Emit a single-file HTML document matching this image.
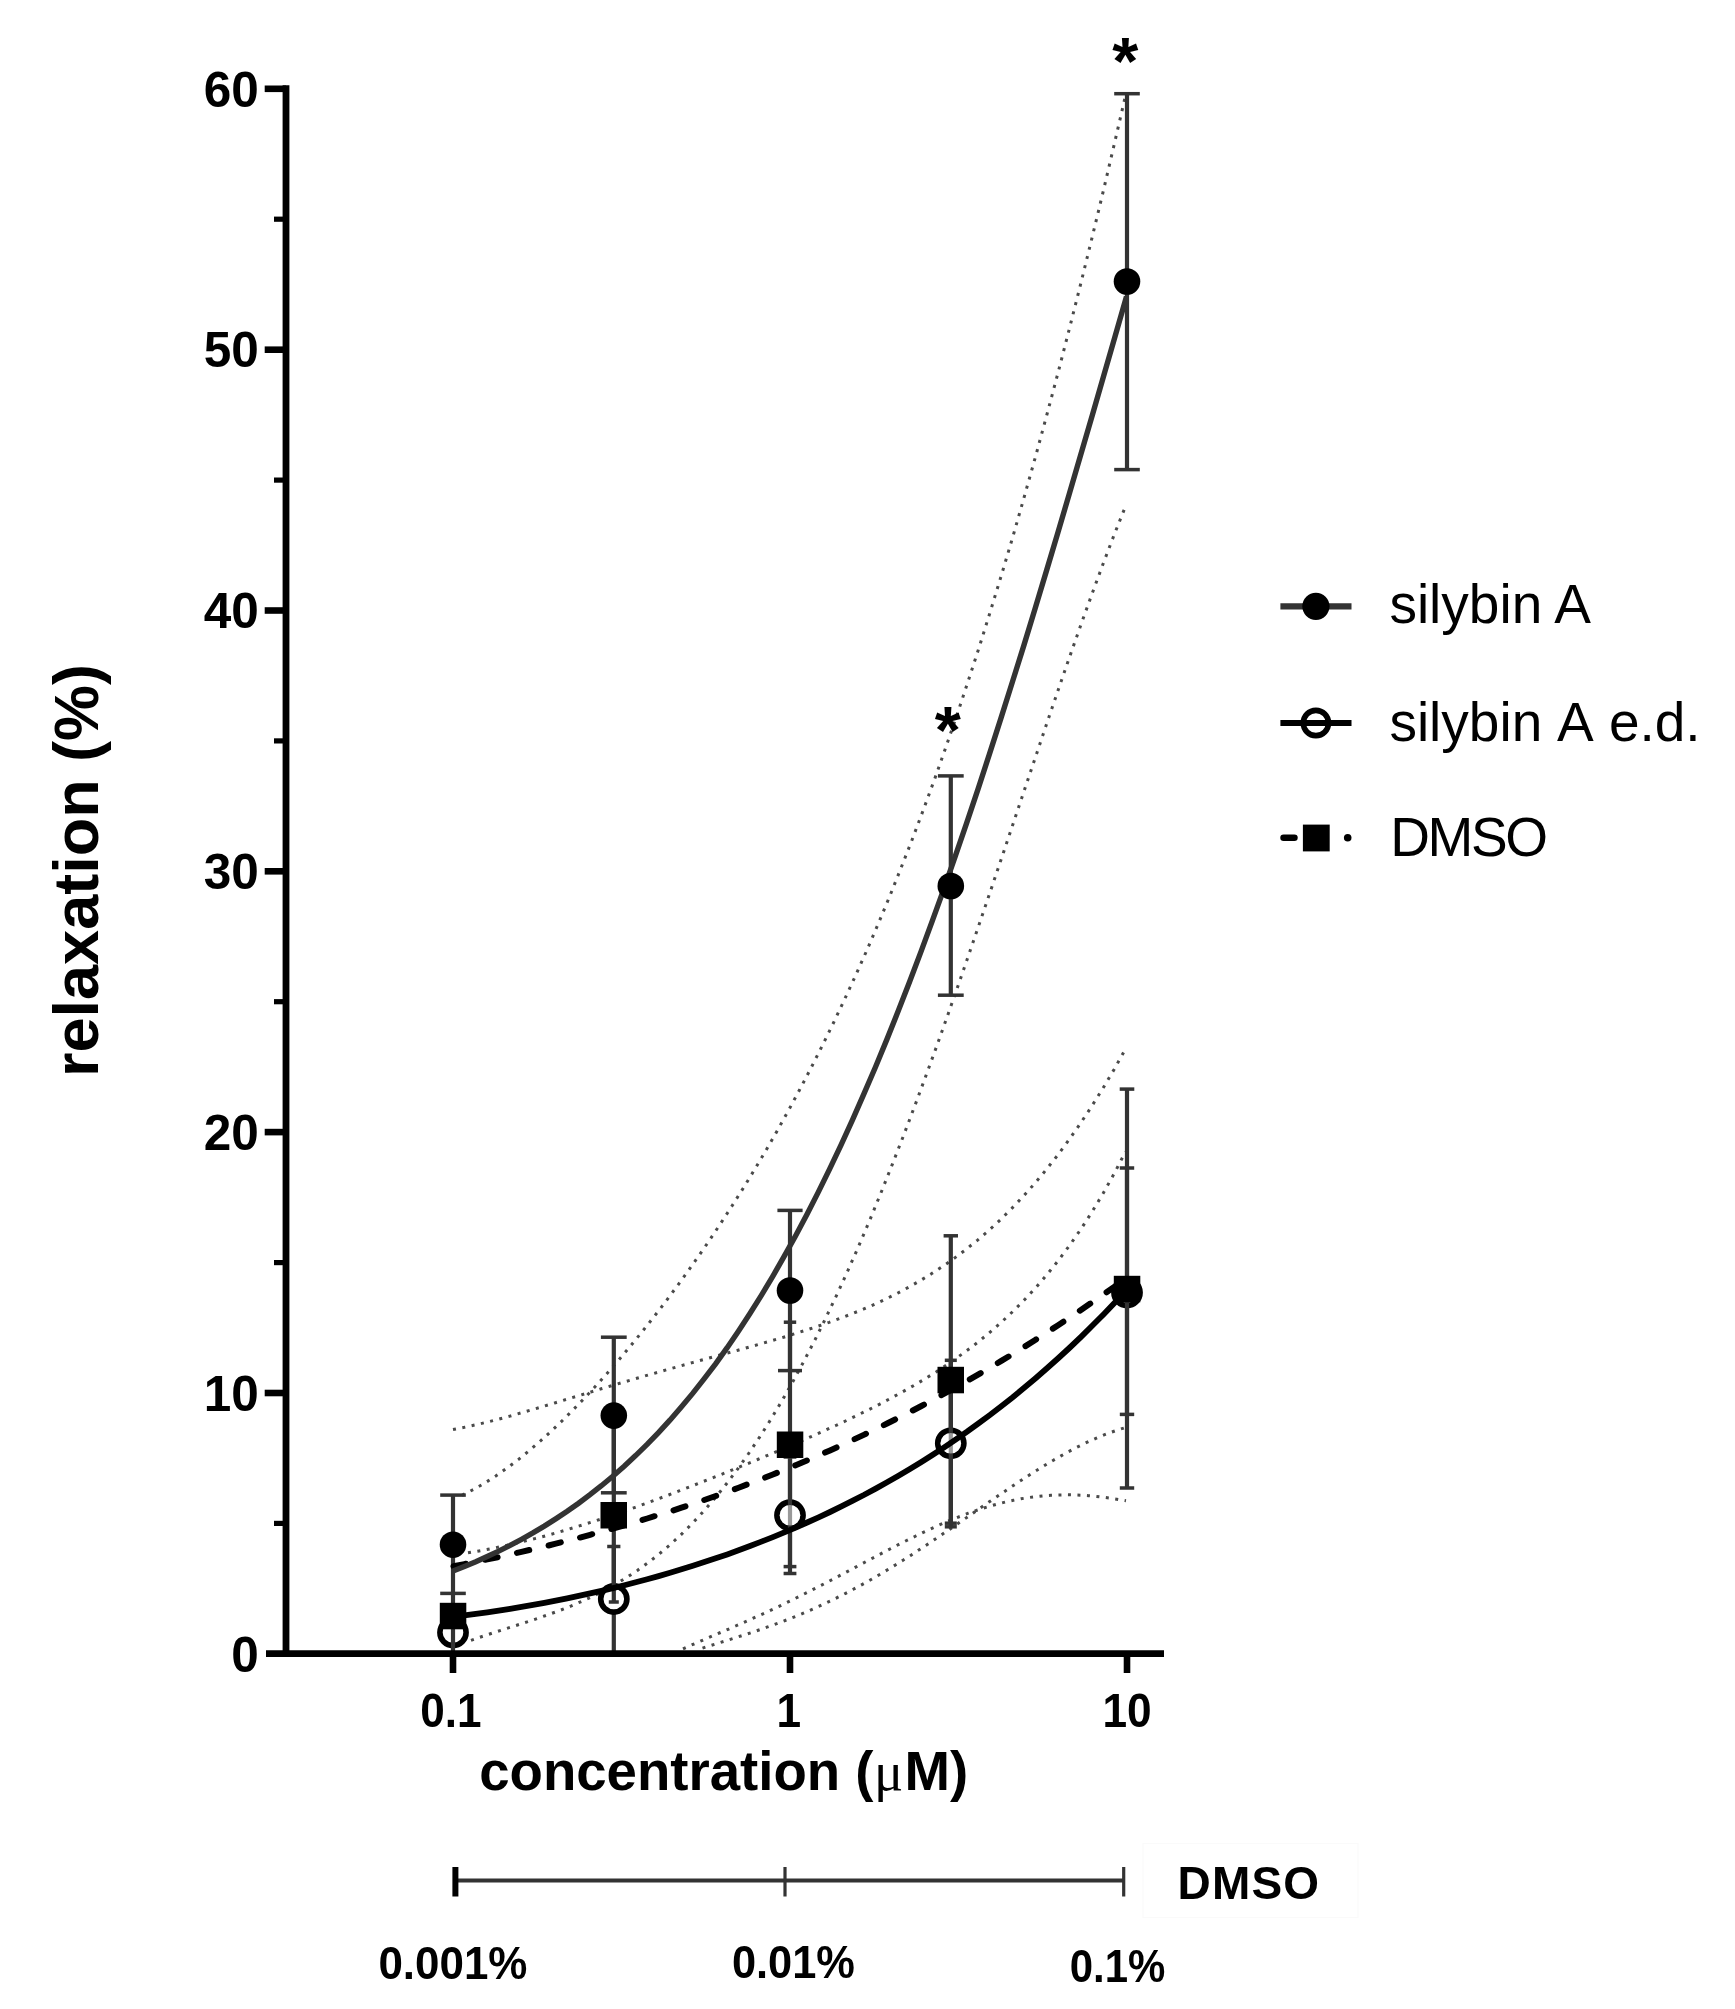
<!DOCTYPE html>
<html lang="en">
<head>
<meta charset="utf-8">
<title>Relaxation vs concentration</title>
<style>
html,body{margin:0;padding:0;background:#fff;}
body{width:1735px;height:2009px;overflow:hidden;}
svg{display:block;font-kerning:none;filter:blur(0.75px);}
text{font-kerning:none;}
</style>
</head>
<body>
<svg width="1735" height="2009" viewBox="0 0 1735 2009">
<path d="M462.0 1495.3 L473.3 1489.6 L484.5 1483.2 L495.8 1476.0 L507.0 1468.1 L518.3 1459.6 L529.5 1450.4 L540.8 1440.7 L552.0 1430.4 L563.3 1419.7 L574.5 1408.4 L585.8 1396.7 L597.1 1384.6 L608.3 1372.0 L619.6 1359.0 L630.8 1345.6 L642.1 1331.8 L653.3 1317.6 L664.6 1303.0 L675.8 1287.9 L687.1 1272.4 L698.3 1256.5 L709.6 1240.1 L720.8 1223.2 L732.1 1205.8 L743.4 1187.9 L754.6 1169.5 L765.9 1150.5 L777.1 1130.9 L788.4 1110.6 L799.6 1089.8 L810.9 1068.2 L822.1 1046.0 L833.4 1023.0 L844.6 999.3 L855.9 974.8 L867.2 949.5 L878.4 923.3 L889.7 896.3 L900.9 868.3 L912.2 839.5 L923.4 809.7 L934.7 778.9 L945.9 747.1 L957.2 714.3 L968.4 680.4 L979.7 645.6 L990.9 609.6 L1002.2 572.6 L1013.5 534.5 L1024.7 495.2 L1036.0 454.9 L1047.2 413.5 L1058.5 371.0 L1069.7 327.4 L1081.0 282.7 L1092.2 237.0 L1103.5 190.2 L1114.7 142.3 L1126.0 93.5" fill="none" stroke="#4a4a4a" stroke-width="3" stroke-dasharray="3 6.5"/>
<path d="M471.0 1640.4 L482.1 1636.5 L493.2 1632.8 L504.3 1629.2 L515.4 1625.7 L526.5 1622.1 L537.6 1618.4 L548.7 1614.5 L559.7 1610.5 L570.8 1606.1 L581.9 1601.3 L593.0 1596.2 L604.1 1590.6 L615.2 1584.4 L626.3 1577.7 L637.4 1570.4 L648.5 1562.4 L659.6 1553.6 L670.7 1544.2 L681.8 1533.9 L692.9 1522.8 L704.0 1510.8 L715.1 1498.0 L726.1 1484.3 L737.2 1469.6 L748.3 1454.0 L759.4 1437.4 L770.5 1419.9 L781.6 1401.4 L792.7 1381.9 L803.8 1361.4 L814.9 1340.0 L826.0 1317.5 L837.1 1294.2 L848.2 1269.9 L859.3 1244.7 L870.4 1218.6 L881.4 1191.7 L892.5 1163.9 L903.6 1135.4 L914.7 1106.1 L925.8 1076.1 L936.9 1045.6 L948.0 1014.4 L959.1 982.7 L970.2 950.6 L981.3 918.1 L992.4 885.4 L1003.5 852.4 L1014.6 819.3 L1025.7 786.2 L1036.8 753.2 L1047.8 720.4 L1058.9 687.9 L1070.0 655.8 L1081.1 624.2 L1092.2 593.4 L1103.3 563.3 L1114.4 534.2 L1125.5 506.3" fill="none" stroke="#4a4a4a" stroke-width="3" stroke-dasharray="3 6.5"/>
<path d="M453.0 1429.5 L464.4 1427.3 L475.8 1424.8 L487.2 1422.1 L498.6 1419.2 L510.0 1416.1 L521.4 1412.8 L532.8 1409.5 L544.2 1406.1 L555.6 1402.7 L567.0 1399.2 L578.4 1395.8 L589.8 1392.3 L601.2 1388.8 L612.6 1385.4 L624.0 1382.0 L635.4 1378.7 L646.8 1375.4 L658.2 1372.2 L669.6 1368.9 L681.0 1365.8 L692.4 1362.6 L703.8 1359.5 L715.2 1356.4 L726.6 1353.3 L738.0 1350.2 L749.4 1347.0 L760.8 1343.8 L772.2 1340.5 L783.6 1337.2 L794.9 1333.7 L806.3 1330.1 L817.7 1326.3 L829.1 1322.4 L840.5 1318.2 L851.9 1313.8 L863.3 1309.2 L874.7 1304.2 L886.1 1298.9 L897.5 1293.2 L908.9 1287.1 L920.3 1280.6 L931.7 1273.6 L943.1 1266.1 L954.5 1258.1 L965.9 1249.5 L977.3 1240.3 L988.7 1230.5 L1000.1 1220.0 L1011.5 1208.7 L1022.9 1196.7 L1034.3 1183.9 L1045.7 1170.3 L1057.1 1155.9 L1068.5 1140.5 L1079.9 1124.2 L1091.3 1106.9 L1102.7 1088.7 L1114.1 1069.4 L1125.5 1049.0" fill="none" stroke="#4a4a4a" stroke-width="3" stroke-dasharray="3 6.5"/>
<path d="M683.0 1648.9 L690.5 1645.5 L698.0 1642.2 L705.5 1639.0 L713.0 1635.7 L720.5 1632.5 L728.1 1629.3 L735.6 1626.0 L743.1 1622.7 L750.6 1619.4 L758.1 1616.0 L765.6 1612.6 L773.1 1609.1 L780.6 1605.6 L788.1 1601.9 L795.6 1598.3 L803.1 1594.5 L810.6 1590.7 L818.2 1586.9 L825.7 1583.0 L833.2 1579.1 L840.7 1575.1 L848.2 1571.1 L855.7 1567.1 L863.2 1563.1 L870.7 1559.1 L878.2 1555.2 L885.7 1551.2 L893.2 1547.3 L900.7 1543.4 L908.3 1539.7 L915.8 1536.0 L923.3 1532.3 L930.8 1528.8 L938.3 1525.4 L945.8 1522.2 L953.3 1519.0 L960.8 1516.1 L968.3 1513.2 L975.8 1510.6 L983.3 1508.1 L990.8 1505.9 L998.4 1503.8 L1005.9 1501.9 L1013.4 1500.3 L1020.9 1498.8 L1028.4 1497.6 L1035.9 1496.6 L1043.4 1495.8 L1050.9 1495.3 L1058.4 1495.0 L1065.9 1494.8 L1073.4 1494.9 L1080.9 1495.2 L1088.5 1495.7 L1096.0 1496.4 L1103.5 1497.3 L1111.0 1498.3 L1118.5 1499.5 L1126.0 1500.7" fill="none" stroke="#4a4a4a" stroke-width="3" stroke-dasharray="3 6.5"/>
<path d="M468.0 1552.8 L479.1 1550.9 L490.3 1548.8 L501.4 1546.5 L512.6 1544.1 L523.7 1541.4 L534.9 1538.6 L546.0 1535.7 L557.2 1532.6 L568.3 1529.3 L579.4 1525.9 L590.6 1522.4 L601.7 1518.8 L612.9 1515.1 L624.0 1511.2 L635.2 1507.3 L646.3 1503.2 L657.4 1499.1 L668.6 1495.0 L679.7 1490.7 L690.9 1486.4 L702.0 1482.0 L713.2 1477.6 L724.3 1473.2 L735.5 1468.6 L746.6 1464.1 L757.7 1459.5 L768.9 1454.8 L780.0 1450.1 L791.2 1445.3 L802.3 1440.5 L813.5 1435.6 L824.6 1430.6 L835.8 1425.5 L846.9 1420.3 L858.0 1414.9 L869.2 1409.5 L880.3 1403.8 L891.5 1397.9 L902.6 1391.8 L913.8 1385.5 L924.9 1378.9 L936.1 1371.9 L947.2 1364.6 L958.3 1356.8 L969.5 1348.7 L980.6 1340.0 L991.8 1330.7 L1002.9 1320.8 L1014.1 1310.3 L1025.2 1299.0 L1036.3 1287.0 L1047.5 1274.0 L1058.6 1260.1 L1069.8 1245.1 L1080.9 1229.1 L1092.1 1211.8 L1103.2 1193.2 L1114.4 1173.2 L1125.5 1151.7" fill="none" stroke="#4a4a4a" stroke-width="3" stroke-dasharray="3 6.5"/>
<path d="M702.5 1648.1 L709.7 1645.8 L716.8 1643.6 L724.0 1641.4 L731.1 1639.1 L738.3 1636.8 L745.5 1634.5 L752.6 1632.2 L759.8 1629.7 L766.9 1627.2 L774.1 1624.6 L781.3 1622.0 L788.4 1619.2 L795.6 1616.4 L802.8 1613.4 L809.9 1610.3 L817.1 1607.2 L824.2 1603.9 L831.4 1600.5 L838.6 1596.9 L845.7 1593.3 L852.9 1589.5 L860.0 1585.7 L867.2 1581.7 L874.4 1577.6 L881.5 1573.4 L888.7 1569.1 L895.8 1564.7 L903.0 1560.2 L910.2 1555.7 L917.3 1551.0 L924.5 1546.3 L931.7 1541.5 L938.8 1536.7 L946.0 1531.8 L953.1 1526.9 L960.3 1521.9 L967.5 1517.0 L974.6 1512.0 L981.8 1507.0 L988.9 1502.1 L996.1 1497.2 L1003.3 1492.3 L1010.4 1487.5 L1017.6 1482.7 L1024.7 1478.0 L1031.9 1473.4 L1039.1 1468.9 L1046.2 1464.5 L1053.4 1460.2 L1060.6 1456.1 L1067.7 1452.1 L1074.9 1448.3 L1082.0 1444.7 L1089.2 1441.3 L1096.4 1438.1 L1103.5 1435.1 L1110.7 1432.4 L1117.8 1429.9 L1125.0 1427.7" fill="none" stroke="#4a4a4a" stroke-width="3" stroke-dasharray="3 6.5"/>
<g id="err-silybin-a">
<line x1="453.0" y1="1495.1" x2="453.0" y2="1593.8" stroke="#333" stroke-width="4.2"/>
<line x1="440.2" y1="1495.1" x2="465.8" y2="1495.1" stroke="#333" stroke-width="3.5"/>
<line x1="440.2" y1="1593.4" x2="465.8" y2="1593.4" stroke="#333" stroke-width="3.5"/>
<line x1="613.8" y1="1337.2" x2="613.8" y2="1492.8" stroke="#333" stroke-width="4.2"/>
<line x1="600.9" y1="1337.2" x2="626.7" y2="1337.2" stroke="#333" stroke-width="3.5"/>
<line x1="600.9" y1="1492.8" x2="626.7" y2="1492.8" stroke="#333" stroke-width="3.5"/>
<line x1="790.0" y1="1210.4" x2="790.0" y2="1370.6" stroke="#333" stroke-width="4.2"/>
<line x1="777.4" y1="1210.4" x2="802.6" y2="1210.4" stroke="#333" stroke-width="3.5"/>
<line x1="778.0" y1="1370.6" x2="802.0" y2="1370.6" stroke="#333" stroke-width="3.5"/>
<line x1="950.8" y1="775.9" x2="950.8" y2="995.2" stroke="#333" stroke-width="4.2"/>
<line x1="937.9" y1="775.9" x2="963.7" y2="775.9" stroke="#333" stroke-width="3.5"/>
<line x1="937.9" y1="995.2" x2="963.7" y2="995.2" stroke="#333" stroke-width="3.5"/>
<line x1="1127.0" y1="93.7" x2="1127.0" y2="469.6" stroke="#333" stroke-width="4.2"/>
<line x1="1114.2" y1="93.7" x2="1139.8" y2="93.7" stroke="#333" stroke-width="3.5"/>
<line x1="1114.2" y1="469.6" x2="1139.8" y2="469.6" stroke="#333" stroke-width="3.5"/>
</g>
<g id="err-silybin-a-ed">
<line x1="613.8" y1="1546.5" x2="613.8" y2="1652.0" stroke="#333" stroke-width="4.2"/>
<line x1="607.2" y1="1546.5" x2="620.4" y2="1546.5" stroke="#333" stroke-width="3.5"/>
<line x1="790.0" y1="1457.0" x2="790.0" y2="1573.5" stroke="#333" stroke-width="4.2"/>
<line x1="783.6" y1="1457.0" x2="796.4" y2="1457.0" stroke="#333" stroke-width="3.5"/>
<line x1="783.6" y1="1573.5" x2="796.4" y2="1573.5" stroke="#333" stroke-width="3.5"/>
<line x1="950.8" y1="1360.3" x2="950.8" y2="1526.8" stroke="#333" stroke-width="4.2"/>
<line x1="944.8" y1="1360.3" x2="956.8" y2="1360.3" stroke="#333" stroke-width="3.5"/>
<line x1="944.8" y1="1526.8" x2="956.8" y2="1526.8" stroke="#333" stroke-width="3.5"/>
<line x1="1127.0" y1="1168.0" x2="1127.0" y2="1414.4" stroke="#333" stroke-width="4.2"/>
<line x1="1119.8" y1="1168.0" x2="1134.2" y2="1168.0" stroke="#333" stroke-width="3.5"/>
<line x1="1119.8" y1="1414.4" x2="1134.2" y2="1414.4" stroke="#333" stroke-width="3.5"/>
</g>
<g id="sym-silybin-a-ed">
<circle cx="453.0" cy="1632.5" r="13.1" fill="#fff" stroke="#000" stroke-width="5.6"/>
<circle cx="613.8" cy="1599.0" r="13.1" fill="#fff" stroke="#000" stroke-width="5.6"/>
<circle cx="790.0" cy="1515.2" r="13.1" fill="#fff" stroke="#000" stroke-width="5.6"/>
<circle cx="950.8" cy="1443.3" r="13.1" fill="#fff" stroke="#000" stroke-width="5.6"/>
<circle cx="1127.0" cy="1292.5" r="13.1" fill="#fff" stroke="#000" stroke-width="5.6"/>
</g>
<g id="err-dmso">
<line x1="453.0" y1="1593.0" x2="453.0" y2="1652.0" stroke="#333" stroke-width="4.2"/>
<line x1="613.8" y1="1428.0" x2="613.8" y2="1602.0" stroke="#333" stroke-width="4.2"/>
<line x1="608.8" y1="1602.0" x2="618.8" y2="1602.0" stroke="#333" stroke-width="3.5"/>
<line x1="790.0" y1="1322.2" x2="790.0" y2="1566.6" stroke="#333" stroke-width="4.2"/>
<line x1="783.8" y1="1322.2" x2="796.2" y2="1322.2" stroke="#333" stroke-width="3.5"/>
<line x1="783.6" y1="1566.6" x2="796.4" y2="1566.6" stroke="#333" stroke-width="3.5"/>
<line x1="950.8" y1="1235.8" x2="950.8" y2="1523.2" stroke="#333" stroke-width="4.2"/>
<line x1="943.6" y1="1235.8" x2="958.0" y2="1235.8" stroke="#333" stroke-width="3.5"/>
<line x1="944.8" y1="1523.2" x2="956.8" y2="1523.2" stroke="#333" stroke-width="3.5"/>
<line x1="1127.0" y1="1089.1" x2="1127.0" y2="1488.0" stroke="#333" stroke-width="4.2"/>
<line x1="1119.7" y1="1089.1" x2="1134.3" y2="1089.1" stroke="#333" stroke-width="3.5"/>
<line x1="1119.8" y1="1488.0" x2="1134.2" y2="1488.0" stroke="#333" stroke-width="3.5"/>
<circle cx="790.0" cy="1515.2" r="10.3" fill="#fff" fill-opacity="0.50"/>
<circle cx="950.8" cy="1443.3" r="10.3" fill="#fff" fill-opacity="0.50"/>
</g>
<path d="M453.0 1566.4 L464.4 1564.1 L475.8 1561.8 L487.3 1559.4 L498.7 1557.0 L510.1 1554.4 L521.5 1551.8 L533.0 1549.2 L544.4 1546.5 L555.8 1543.7 L567.2 1540.8 L578.7 1537.9 L590.1 1534.8 L601.5 1531.7 L612.9 1528.6 L624.4 1525.3 L635.8 1521.9 L647.2 1518.5 L658.6 1515.0 L670.1 1511.4 L681.5 1507.7 L692.9 1503.9 L704.3 1500.0 L715.7 1496.0 L727.2 1491.9 L738.6 1487.7 L750.0 1483.4 L761.4 1479.0 L772.9 1474.5 L784.3 1469.9 L795.7 1465.2 L807.1 1460.4 L818.6 1455.5 L830.0 1450.4 L841.4 1445.3 L852.8 1440.0 L864.3 1434.6 L875.7 1429.1 L887.1 1423.5 L898.5 1417.8 L909.9 1412.0 L921.4 1406.0 L932.8 1399.9 L944.2 1393.7 L955.6 1387.4 L967.1 1381.0 L978.5 1374.4 L989.9 1367.7 L1001.3 1360.9 L1012.8 1354.0 L1024.2 1346.9 L1035.6 1339.7 L1047.0 1332.4 L1058.5 1325.0 L1069.9 1317.4 L1081.3 1309.7 L1092.7 1301.9 L1104.2 1293.9 L1115.6 1285.9 L1127.0 1277.7" fill="none" stroke="#000" stroke-width="6" stroke-dasharray="12.6 19.85" stroke-dashoffset="-0.5" stroke-linecap="round"/>
<path d="M453.0 1616.8 L464.4 1615.4 L475.8 1613.9 L487.3 1612.3 L498.7 1610.6 L510.1 1608.8 L521.5 1606.9 L533.0 1604.9 L544.4 1602.8 L555.8 1600.6 L567.2 1598.3 L578.7 1595.9 L590.1 1593.4 L601.5 1590.8 L612.9 1588.1 L624.4 1585.3 L635.8 1582.3 L647.2 1579.2 L658.6 1576.1 L670.1 1572.8 L681.5 1569.3 L692.9 1565.8 L704.3 1562.1 L715.7 1558.3 L727.2 1554.4 L738.6 1550.3 L750.0 1546.0 L761.4 1541.6 L772.9 1537.1 L784.3 1532.4 L795.7 1527.6 L807.1 1522.5 L818.6 1517.3 L830.0 1512.0 L841.4 1506.4 L852.8 1500.7 L864.3 1494.8 L875.7 1488.6 L887.1 1482.3 L898.5 1475.7 L909.9 1469.0 L921.4 1462.0 L932.8 1454.8 L944.2 1447.3 L955.6 1439.6 L967.1 1431.7 L978.5 1423.4 L989.9 1415.0 L1001.3 1406.2 L1012.8 1397.2 L1024.2 1387.8 L1035.6 1378.2 L1047.0 1368.3 L1058.5 1358.0 L1069.9 1347.5 L1081.3 1336.6 L1092.7 1325.3 L1104.2 1313.7 L1115.6 1301.8 L1127.0 1289.4" fill="none" stroke="#000" stroke-width="5.8"/>
<path d="M453.0 1571.1 L464.4 1566.5 L475.8 1561.7 L487.2 1556.5 L498.7 1551.1 L510.1 1545.4 L521.5 1539.3 L532.9 1532.9 L544.3 1526.1 L555.7 1518.9 L567.2 1511.3 L578.6 1503.2 L590.0 1494.7 L601.4 1485.7 L612.8 1476.2 L624.2 1466.2 L635.6 1455.6 L647.1 1444.4 L658.5 1432.6 L669.9 1420.2 L681.3 1407.1 L692.7 1393.4 L704.1 1378.9 L715.6 1363.8 L727.0 1347.9 L738.4 1331.2 L749.8 1313.8 L761.2 1295.6 L772.6 1276.6 L784.0 1256.7 L795.5 1236.0 L806.9 1214.5 L818.3 1192.1 L829.7 1168.9 L841.1 1144.8 L852.5 1119.8 L863.9 1093.9 L875.4 1067.2 L886.8 1039.6 L898.2 1011.1 L909.6 981.8 L921.0 951.6 L932.4 920.6 L943.9 888.8 L955.3 856.2 L966.7 822.9 L978.1 788.8 L989.5 753.9 L1000.9 718.4 L1012.3 682.3 L1023.8 645.6 L1035.2 608.3 L1046.6 570.4 L1058.0 532.2 L1069.4 493.5 L1080.8 454.5 L1092.3 415.2 L1103.7 375.8 L1115.1 336.2 L1126.5 296.5" fill="none" stroke="#333" stroke-width="5.4"/>
<g id="sym-dmso">
<rect x="439.8" y="1602.8" width="26.5" height="26.5" fill="#000"/>
<rect x="600.5" y="1502.0" width="26.5" height="26.5" fill="#000"/>
<rect x="776.8" y="1431.5" width="26.5" height="26.5" fill="#000"/>
<rect x="937.5" y="1366.8" width="26.5" height="26.5" fill="#000"/>
<rect x="1113.8" y="1275.8" width="26.5" height="26.5" fill="#000"/>
</g>
<g id="sym-silybin-a">
<circle cx="453.0" cy="1544.7" r="13.3" fill="#000"/>
<circle cx="613.8" cy="1415.6" r="13.3" fill="#000"/>
<circle cx="790.0" cy="1290.5" r="13.3" fill="#000"/>
<circle cx="950.8" cy="886.0" r="13.3" fill="#000"/>
<circle cx="1127.0" cy="281.5" r="13.3" fill="#000"/>
</g>
<line x1="286" y1="85.2" x2="286" y2="1657" stroke="#000" stroke-width="6.8"/>
<line x1="266" y1="1653.6" x2="1164" y2="1653.6" stroke="#000" stroke-width="6.8"/>
<line x1="264.7" y1="1393.0" x2="286" y2="1393.0" stroke="#000" stroke-width="6.6"/>
<line x1="264.7" y1="1132.1" x2="286" y2="1132.1" stroke="#000" stroke-width="6.6"/>
<line x1="264.7" y1="871.3" x2="286" y2="871.3" stroke="#000" stroke-width="6.6"/>
<line x1="264.7" y1="610.5" x2="286" y2="610.5" stroke="#000" stroke-width="6.6"/>
<line x1="264.7" y1="349.7" x2="286" y2="349.7" stroke="#000" stroke-width="6.6"/>
<line x1="264.7" y1="88.8" x2="286" y2="88.8" stroke="#000" stroke-width="6.6"/>
<line x1="274" y1="1523.4" x2="286" y2="1523.4" stroke="#000" stroke-width="5.2"/>
<line x1="274" y1="1262.6" x2="286" y2="1262.6" stroke="#000" stroke-width="5.2"/>
<line x1="274" y1="1001.7" x2="286" y2="1001.7" stroke="#000" stroke-width="5.2"/>
<line x1="274" y1="740.9" x2="286" y2="740.9" stroke="#000" stroke-width="5.2"/>
<line x1="274" y1="480.1" x2="286" y2="480.1" stroke="#000" stroke-width="5.2"/>
<line x1="274" y1="219.2" x2="286" y2="219.2" stroke="#000" stroke-width="5.2"/>
<line x1="453.0" y1="1653" x2="453.0" y2="1673" stroke="#000" stroke-width="6.6"/>
<line x1="790.0" y1="1653" x2="790.0" y2="1673" stroke="#000" stroke-width="6.6"/>
<line x1="1127.0" y1="1653" x2="1127.0" y2="1673" stroke="#000" stroke-width="6.6"/>
<text x="258.8" y="1671.5" text-anchor="end" font-size="49.5" font-family="'Liberation Sans', Arial, Helvetica, sans-serif" font-weight="700" fill="#000">0</text>
<text x="258.8" y="1410.7" text-anchor="end" font-size="49.5" font-family="'Liberation Sans', Arial, Helvetica, sans-serif" font-weight="700" fill="#000">10</text>
<text x="258.8" y="1149.8" text-anchor="end" font-size="49.5" font-family="'Liberation Sans', Arial, Helvetica, sans-serif" font-weight="700" fill="#000">20</text>
<text x="258.8" y="889.0" text-anchor="end" font-size="49.5" font-family="'Liberation Sans', Arial, Helvetica, sans-serif" font-weight="700" fill="#000">30</text>
<text x="258.8" y="628.2" text-anchor="end" font-size="49.5" font-family="'Liberation Sans', Arial, Helvetica, sans-serif" font-weight="700" fill="#000">40</text>
<text x="258.8" y="367.4" text-anchor="end" font-size="49.5" font-family="'Liberation Sans', Arial, Helvetica, sans-serif" font-weight="700" fill="#000">50</text>
<text x="258.8" y="106.5" text-anchor="end" font-size="49.5" font-family="'Liberation Sans', Arial, Helvetica, sans-serif" font-weight="700" fill="#000">60</text>
<text x="420.2" y="1727.4" font-size="48.5" textLength="61.3" lengthAdjust="spacingAndGlyphs" font-family="'Liberation Sans', Arial, Helvetica, sans-serif" font-weight="700" fill="#000">0.1</text>
<text x="776.6" y="1727.4" font-size="48.5" textLength="24.6" lengthAdjust="spacingAndGlyphs" font-family="'Liberation Sans', Arial, Helvetica, sans-serif" font-weight="700" fill="#000">1</text>
<text x="1102.4" y="1727.4" font-size="48.5" textLength="49.2" lengthAdjust="spacingAndGlyphs" font-family="'Liberation Sans', Arial, Helvetica, sans-serif" font-weight="700" fill="#000">10</text>
<text x="479.2" y="1790" font-size="54.6" font-family="'Liberation Sans', Arial, Helvetica, sans-serif" font-weight="700" fill="#000">concentration (<tspan dx="0.5" font-family="'Liberation Serif', 'DejaVu Serif', serif" font-weight="400">μ</tspan><tspan dx="1.2">M)</tspan></text>
<text transform="translate(98 1077) rotate(-90)" font-size="63" font-family="'Liberation Sans', Arial, Helvetica, sans-serif" font-weight="700" fill="#000">relaxation (%)</text>
<text x="1125.2" y="83.5" text-anchor="middle" font-size="67" font-family="'Liberation Sans', Arial, Helvetica, sans-serif" font-weight="700" fill="#000">*</text>
<text x="947.8" y="752.7" text-anchor="middle" font-size="67" font-family="'Liberation Sans', Arial, Helvetica, sans-serif" font-weight="700" fill="#000">*</text>
<line x1="1280.4" y1="606.3" x2="1351.5" y2="606.3" stroke="#333" stroke-width="6.2"/>
<circle cx="1315.9" cy="606.3" r="13.6" fill="#000"/>
<text x="1389.4" y="623.4" font-size="55" font-family="'Liberation Sans', Arial, Helvetica, sans-serif" font-weight="400" fill="#000">silybin <tspan dx="-3.4">A</tspan></text>
<line x1="1280.4" y1="723" x2="1351.5" y2="723" stroke="#000" stroke-width="6.2"/>
<circle cx="1315.9" cy="723.0" r="12.6" fill="none" stroke="#000" stroke-width="5.6"/>
<text x="1389.4" y="741" font-size="55" font-family="'Liberation Sans', Arial, Helvetica, sans-serif" font-weight="400" fill="#000">silybin <tspan dx="-0.6">A e.d.</tspan></text>
<line x1="1283.6" y1="837.7" x2="1294.4" y2="837.7" stroke="#000" stroke-width="6.6" stroke-linecap="round"/>
<circle cx="1347.7" cy="837.8" r="3.8" fill="#000"/>
<rect x="1302.9" y="824.6" width="26.8" height="26.8" fill="#000"/>
<text x="1390.2" y="856" font-size="55" letter-spacing="-2.4" font-family="'Liberation Sans', Arial, Helvetica, sans-serif" font-weight="400" fill="#000">DMSO</text>
<rect x="1143" y="1843.5" width="215" height="74" fill="#fff" stroke="#fafafa" stroke-width="1.2"/>
<line x1="455" y1="1880.5" x2="1124" y2="1880.5" stroke="#333" stroke-width="3.8"/>
<line x1="455.4" y1="1867" x2="455.4" y2="1896.5" stroke="#000" stroke-width="6"/>
<line x1="785" y1="1867" x2="785" y2="1896.5" stroke="#333" stroke-width="3.2"/>
<line x1="1123.7" y1="1867" x2="1123.7" y2="1896.5" stroke="#333" stroke-width="3.2"/>
<text x="1177.6" y="1899.3" font-size="46" textLength="141.5" lengthAdjust="spacing" font-family="'Liberation Sans', Arial, Helvetica, sans-serif" font-weight="700" fill="#000">DMSO</text>
<text x="378.4" y="1978.5" font-size="46" textLength="149" lengthAdjust="spacingAndGlyphs" font-family="'Liberation Sans', Arial, Helvetica, sans-serif" font-weight="700" fill="#000">0.001%</text>
<text x="731.9" y="1977.5" font-size="46" textLength="123" lengthAdjust="spacingAndGlyphs" font-family="'Liberation Sans', Arial, Helvetica, sans-serif" font-weight="700" fill="#000">0.01%</text>
<text x="1069.8" y="1981.5" font-size="46" textLength="95.6" lengthAdjust="spacingAndGlyphs" font-family="'Liberation Sans', Arial, Helvetica, sans-serif" font-weight="700" fill="#000">0.1%</text>
</svg>
</body>
</html>
